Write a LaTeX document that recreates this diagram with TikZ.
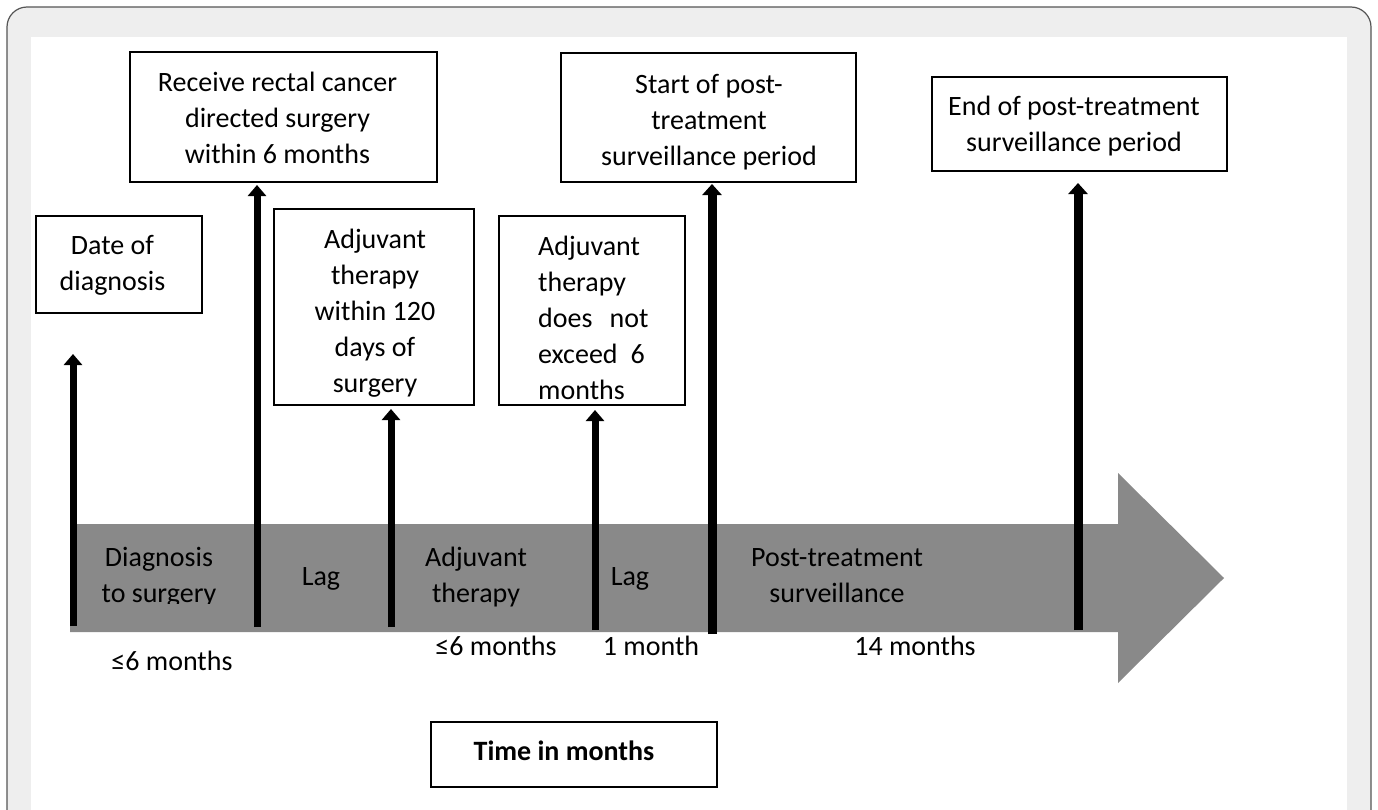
\documentclass[tikz,border=0pt]{standalone}
\usepackage{fontspec}
\setmainfont{Carlito}
\usetikzlibrary{arrows.meta}
\definecolor{ringgray}{HTML}{EEEEEE}
\definecolor{framegray}{HTML}{555555}
\definecolor{bandgray}{HTML}{898989}
\tikzset{
  thickbox/.style={draw=black, line width=2.6pt, fill=white, inner sep=0pt},
  thinbox/.style={draw=black, line width=1.3pt, fill=white, inner sep=0pt},
  txt/.style={font=\fontsize{28}{36}\selectfont, align=center, inner sep=0pt, text=black},
  btxt/.style={font=\fontsize{28}{36}\selectfont\bfseries, inner sep=0pt, text=black},
  varrow/.style={line width=7pt, -{Triangle[width=18pt,length=11pt]}},
  varrowthick/.style={line width=9pt, -{Triangle[width=19pt,length=11pt]}}
}
\begin{document}
\begin{tikzpicture}[x=1pt,y=-1pt]
\useasboundingbox (0,0) rectangle (1378,809);
\clip (0,0) rectangle (1378,809);
% frame
\fill[white] (0,0) rectangle (1378,809);
\draw[draw=framegray, line width=1.2pt, fill=ringgray, rounded corners=20pt] (7,7) rectangle (1371,880);
\fill[white] (31,37) rectangle (1347,880);

% big gray arrow band
\fill[bandgray] (70,524) -- (1118,524) -- (1118,473) -- (1224,578) -- (1118,683) -- (1118,632) -- (70,632) -- cycle;

% boxes
\node[thickbox, minimum width=307pt, minimum height=130pt] (b1) at (283.5,117) {};
\node[txt] (t1) at (277.5,117.5) {Receive rectal cancer\\directed surgery\\within 6 months};

\node[thinbox, minimum width=166pt, minimum height=97pt] (b0) at (119,264.5) {};
\node[txt] (t0) at (112.5,265.5) {Date of\\diagnosis};

\node[thinbox, minimum width=200pt, minimum height=196pt] (b2) at (374,307) {};
\node[txt] (t2) at (375,313) {Adjuvant\\therapy\\within 120\\days of\\surgery};

\node[thinbox, minimum width=186pt, minimum height=189pt] (b3) at (592,310.5) {};
\node[txt, align=left, anchor=west] (t3) at (538,317.5) {Adjuvant\\therapy\\does\hspace{17pt}not\\exceed\hspace{13pt}6\\months};

\node[thickbox, minimum width=295pt, minimum height=129pt] (b4) at (708.5,117.5) {};
\node[txt] (t4) at (709,122) {Start of post-\\treatment\\surveillance period};

\node[thickbox, minimum width=295pt, minimum height=94pt] (b5) at (1079.5,124) {};
\node[txt] (t5) at (1074,126.5) {End of post-treatment\\surveillance period};

\node[thinbox, minimum width=286pt, minimum height=65pt] (b6) at (574,754.5) {};
\node[btxt, anchor=base] (t6) at (564,760) {Time in months};

% band labels
\begin{scope}
\clip (60,520) rectangle (250,603);
\node[txt] (l1) at (159,577.5) {Diagnosis\\to surgery};
\end{scope}
\node[txt] (l2) at (321,579) {Lag};
\node[txt] (l3) at (476,577.5) {Adjuvant\\therapy};
\node[txt] (l4) at (630,579) {Lag};
\node[txt] (l5) at (837,575.5) {Post-treatment\\surveillance};

% durations
\node[txt, anchor=base] (d1) at (172,670) {≤6 months};
\node[txt, anchor=base] (d2) at (496,655) {≤6 months};
\node[txt, anchor=base] (d3) at (651,655) {1 month};
\node[txt, anchor=base] (d4) at (915,655) {14 months};

% vertical arrows
\coordinate (a1s) at (73,626);   \coordinate (a1e) at (73,354);
\coordinate (a2s) at (257,627);  \coordinate (a2e) at (257,185);
\coordinate (a3s) at (391,627);  \coordinate (a3e) at (391,409);
\coordinate (a4s) at (595,630);  \coordinate (a4e) at (595,410);
\coordinate (a5s) at (712,634);  \coordinate (a5e) at (712,184);
\coordinate (a6s) at (1078,630); \coordinate (a6e) at (1078,183);
\draw[varrow] (a1s) -- (a1e);
\draw[varrow] (a2s) -- (a2e);
\draw[varrow] (a3s) -- (a3e);
\draw[varrow] (a4s) -- (a4e);
\draw[varrowthick] (a5s) -- (a5e);
\draw[varrowthick] (a6s) -- (a6e);
\end{tikzpicture}
\end{document}
